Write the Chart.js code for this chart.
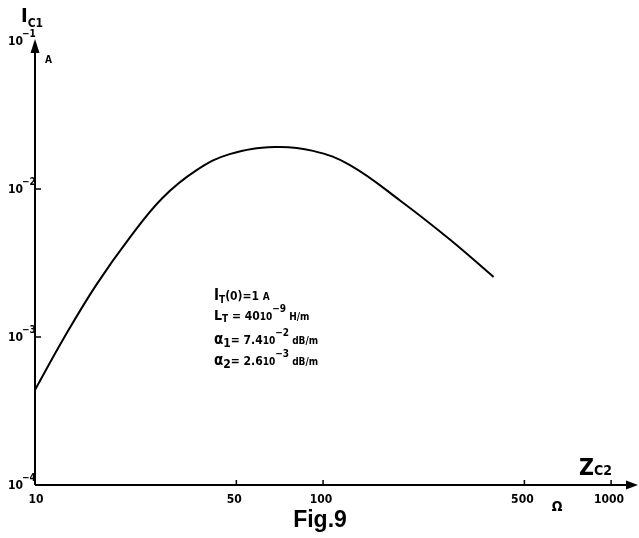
<!DOCTYPE html>
<html>
<head>
<meta charset="utf-8">
<script src="https://cdn.jsdelivr.net/npm/chart.js@4/dist/chart.umd.min.js"></script>
<style>
  html, body { margin: 0; padding: 0; background: #fff; }
  #wrap { width: 639px; height: 538px; }
</style>
</head>
<body>
<div id="wrap"><canvas id="fig9" width="639" height="538"></canvas></div>
<script>
// Z_C2 (ohm) and I_C1 (A)
const zc2 = [10, 12.6, 16.3, 21.3, 27.7, 36.4, 47.4, 68, 92.3, 124, 186, 277, 391];
const ic1 = [4.39e-4, 9.84e-4, 2.24e-3, 4.67e-3, 8.69e-3, 1.34e-2, 1.72e-2, 1.92e-2, 1.81e-2, 1.45e-2, 8.3e-3, 4.52e-3, 2.54e-3];

const xTicks = [10, 50, 100, 500, 1000];
const xTickLabels = ["10", "50", "100", "500", "1000"];
const yTicks = [1e-1, 1e-2, 1e-3, 1e-4];
const yExponents = ["−1", "−2", "−3", "−4"];

const annotation = [
  [["I", 15], ["T", 10, 3], ["(0)=1 ", 12], ["A", 10]],
  [["L", 14], ["T", 10, 2], [" = 40", 12], ["10", 10], ["−9", 10, -8], [" H/m", 10]],
  [["α", 15], ["1", 12, 3], ["= 7.4", 12], ["10", 10], ["−2", 10, -8], [" dB/m", 10]],
  [["α", 15], ["2", 12, 3], ["= 2.6", 12], ["10", 10], ["−3", 10, -8], [" dB/m", 10]],
];
const annotationBaselines = [300, 320, 344, 365];

const FAM = '"DejaVu Sans Condensed", "Liberation Sans Narrow", "DejaVu Sans", sans-serif';
const font = (size) => "bold " + size + "px " + FAM;

const drawRich = (ctx, x, y, parts) => {
  ctx.textAlign = "left";
  ctx.textBaseline = "alphabetic";
  parts.forEach(([t, size, dy]) => {
    ctx.font = font(size);
    ctx.fillText(t, x, y + (dy || 0));
    x += ctx.measureText(t).width;
  });
};

const axesPlugin = {
  id: "axesPlugin",
  afterDraw(chart) {
    const ctx = chart.ctx;
    const xs = chart.scales.x;
    const ys = chart.scales.y;
    const a = chart.chartArea;
    const x0 = a.left;
    const y0 = a.bottom;
    ctx.save();
    ctx.fillStyle = "#000";
    ctx.strokeStyle = "#000";

    // axis lines
    ctx.lineWidth = 2;
    ctx.beginPath();
    ctx.moveTo(x0, y0);
    ctx.lineTo(x0, a.top + 6);
    ctx.moveTo(x0, y0);
    ctx.lineTo(a.right - 6, y0);
    ctx.stroke();

    // arrows
    ctx.beginPath();
    ctx.moveTo(x0, a.top - 2);
    ctx.lineTo(x0 - 4.5, a.top + 12);
    ctx.lineTo(x0 + 4.5, a.top + 12);
    ctx.closePath();
    ctx.fill();
    ctx.beginPath();
    ctx.moveTo(a.right + 1, y0);
    ctx.lineTo(a.right - 11, y0 - 4.5);
    ctx.lineTo(a.right - 11, y0 + 4.5);
    ctx.closePath();
    ctx.fill();

    // tick marks
    ctx.lineWidth = 1.5;
    ctx.beginPath();
    yTicks.forEach((v) => {
      if (v === 1e-1 || v === 1e-4) return;
      const py = ys.getPixelForValue(v);
      ctx.moveTo(x0, py);
      ctx.lineTo(x0 + 6, py);
    });
    xTicks.forEach((v) => {
      if (v === 10) return;
      const px = xs.getPixelForValue(v);
      ctx.moveTo(px, y0);
      ctx.lineTo(px, y0 - 5);
    });
    ctx.stroke();

    // y tick labels: 10 with exponent
    yTicks.forEach((v, i) => {
      const py = ys.getPixelForValue(v);
      ctx.font = font(12);
      ctx.textAlign = "right";
      ctx.fillText("10", 23, py + 4);
      ctx.textAlign = "left";
      ctx.font = font(10);
      ctx.fillText(yExponents[i], 22, py - 4);
    });

    // x tick labels
    ctx.font = font(12);
    ctx.textAlign = "center";
    xTicks.forEach((v, i) => {
      const px = xs.getPixelForValue(v);
      ctx.fillText(xTickLabels[i], px - 2 + (i === 0 ? 3 : 0), 503);
    });

    // axis titles and units
    drawRich(ctx, 21, 22, [["I", 20], ["C1", 12, 5]]);
    drawRich(ctx, 45, 63, [["A", 10]]);
    drawRich(ctx, 579, 475, [["Z", 23], ["C2", 14]]);
    ctx.font = font(14);
    ctx.textAlign = "center";
    ctx.fillText("Ω", 557, 511);

    // parameter block
    annotation.forEach((parts, i) => drawRich(ctx, 214, annotationBaselines[i], parts));

    // caption
    ctx.font = 'bold 23px "Liberation Sans", Arial, sans-serif';
    ctx.textAlign = "center";
    ctx.fillText("Fig.9", 320, 527);
    ctx.restore();
  },
};

const chart = new Chart(document.getElementById("fig9").getContext("2d"), {
  type: "scatter",
  data: {
    datasets: [
      {
        label: "I_C1",
        data: zc2.map((z, i) => ({ x: z, y: ic1[i] })),
        showLine: true,
        borderColor: "#000",
        borderWidth: 2,
        pointRadius: 0,
        tension: 0.4,
        fill: false,
      },
    ],
  },
  options: {
    responsive: false,
    animation: false,
    layout: { padding: { left: 35, right: 2, top: 41, bottom: 53 } },
    plugins: { legend: { display: false }, tooltip: { enabled: false } },
    scales: {
      x: { type: "logarithmic", min: 10, max: 1230, display: false },
      y: { type: "logarithmic", min: 1e-4, max: 1e-1, display: false },
    },
  },
  plugins: [axesPlugin],
});
</script>
</body>
</html>
